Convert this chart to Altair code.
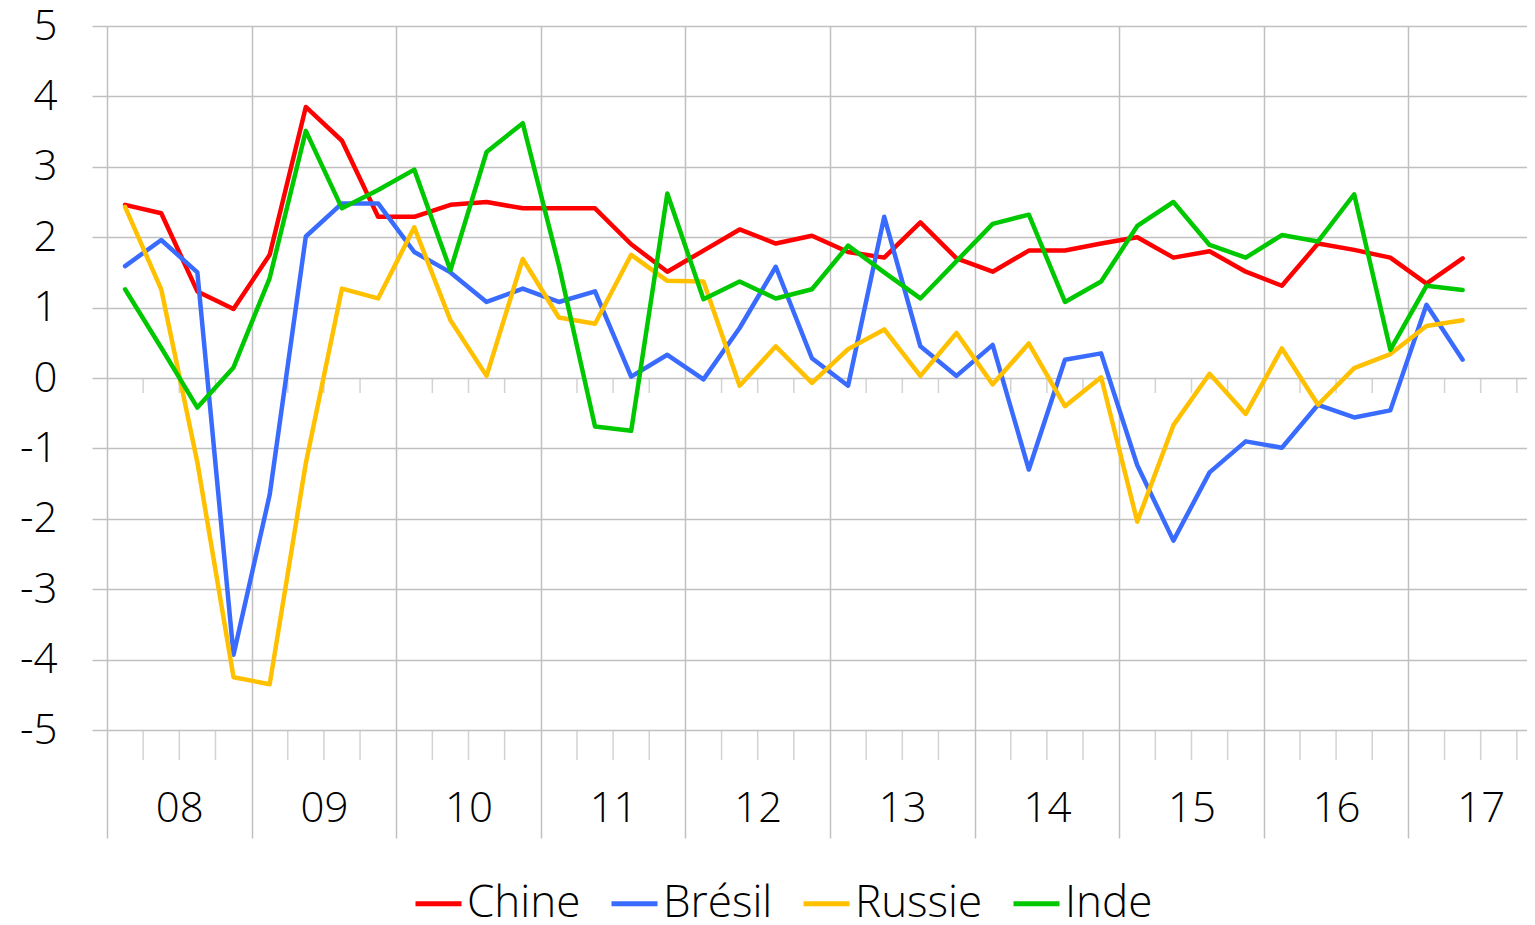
import altair as alt
import pandas as pd

# Quarterly data, 2008Q1 .. 2017Q2
chine = [2.46, 2.34, 1.23, 0.98, 1.75, 3.85, 3.37, 2.29, 2.29, 2.46, 2.50,
         2.41, 2.41, 2.41, 1.90, 1.51, 1.81, 2.11, 1.91, 2.02, 1.79, 1.71,
         2.21, 1.70, 1.51, 1.81, 1.81, 1.91, 2.00, 1.71, 1.80, 1.51, 1.31,
         1.91, 1.82, 1.71, 1.34, 1.70]
bresil = [1.59, 1.96, 1.50, -3.93, -1.66, 2.01, 2.48, 2.48, 1.79, 1.50, 1.08,
          1.27, 1.08, 1.23, 0.02, 0.33, -0.02, 0.71, 1.58, 0.28, -0.11, 2.29,
          0.45, 0.03, 0.47, -1.30, 0.26, 0.35, -1.24, -2.31, -1.34, -0.90, -0.99,
          -0.38, -0.56, -0.46, 1.04, 0.26]
russie = [2.43, 1.26, -1.20, -4.25, -4.35, -1.21, 1.27, 1.13, 2.14, 0.82, 0.03,
          1.69, 0.86, 0.77, 1.75, 1.38, 1.37, -0.11, 0.45, -0.07, 0.41, 0.69,
          0.03, 0.64, -0.09, 0.49, -0.40, 0.01, -2.04, -0.67, 0.06, -0.51, 0.42,
          -0.38, 0.14, 0.34, 0.74, 0.82]
inde = [1.26, 0.43, -0.42, 0.15, 1.42, 3.51, 2.41, 2.67, 2.96, 1.53, 3.21,
        3.62, 1.60, -0.69, -0.75, 2.62, 1.12, 1.37, 1.13, 1.26, 1.88, 1.50,
        1.13, 1.66, 2.19, 2.32, 1.08, 1.37, 2.16, 2.50, 1.89, 1.71, 2.03,
        1.94, 2.61, 0.40, 1.31, 1.25]

series_names = ["Chine", "Brésil", "Russie", "Inde"]
series_colors = ["#FF0000", "#3A6BFF", "#FFC000", "#00C800"]
year_labels = ["08", "09", "10", "11", "12", "13", "14", "15", "16", "17"]
y_ticks = [-5, -4, -3, -2, -1, 0, 1, 2, 3, 4, 5]

FONT = "Open Sans"
GRID = "#C0C0C0"
FS = 42

rows = []
for name, vals in zip(series_names, [chine, bresil, russie, inde]):
    for i, v in enumerate(vals):
        rows.append({"q": i + 0.5, "v": v, "serie": name})
df = pd.DataFrame(rows)

PLOT_W = 1420
QUARTER_PX = 36.15
x_max = PLOT_W / QUARTER_PX
year_bounds = [4 * k for k in range(len(year_labels))]
quarter_bounds = [q for q in range(1, 40) if q % 4 != 0 and q < x_max]

label_expr = "[" + ",".join("'" + y + "'" for y in year_labels) + "][floor(datum.value/4)]"

xscale = alt.Scale(domain=[0, x_max], nice=False, zero=False)
yscale = alt.Scale(domain=[-5, 5], nice=False, zero=False)

lines = alt.Chart(df).mark_line(strokeWidth=4.5, strokeJoin="round", strokeCap="round").encode(
    x=alt.X("q:Q", scale=xscale,
            axis=alt.Axis(values=year_bounds, grid=True, gridColor=GRID, gridWidth=1.5,
                          tickSize=108, tickColor=GRID, tickWidth=1.5, domain=False,
                          labelExpr=label_expr, labelOffset=2 * QUARTER_PX, labelPadding=-30,
                          labelFont=FONT, labelFontSize=FS, labelColor="#000000",
                          labelFontWeight=300,
                          labelFlush=False, labelOverlap=False, labelBound=False,
                          labelBaseline="middle", title=None)),
    y=alt.Y("v:Q", scale=yscale,
            axis=alt.Axis(values=y_ticks, labelExpr="'' + datum.value", grid=True,
                          gridColor=GRID, gridWidth=1.5,
                          tickSize=15, tickColor=GRID, tickWidth=1.5, domain=False,
                          labelFont=FONT, labelFontSize=FS, labelColor="#000000",
                          labelFontWeight=300, labelPadding=35,
                          labelFlush=False, labelOverlap=False, title=None)),
    color=alt.Color("serie:N", sort=series_names,
                    scale=alt.Scale(domain=series_names, range=series_colors),
                    legend=alt.Legend(orient="none", direction="horizontal",
                                      legendX=306, legendY=852, title=None,
                                      symbolType="stroke", symbolSize=2116,
                                      symbolStrokeWidth=5, labelFont=FONT,
                                      labelFontSize=44, labelFontWeight=300,
                                      labelColor="#000000", labelOffset=3,
                                      columnPadding=20)),
)

qdf = pd.DataFrame({"qb": quarter_bounds})
zero_ticks = alt.Chart(qdf).mark_tick(orient="vertical", size=15, thickness=1.5,
                                      color=GRID, yOffset=7.5).encode(
    x=alt.X("qb:Q", scale=xscale), y=alt.YDatum(0))
bottom_ticks = alt.Chart(qdf).mark_tick(orient="vertical", size=30, thickness=1.5,
                                        color=GRID, yOffset=15).encode(
    x=alt.X("qb:Q", scale=xscale), y=alt.YDatum(-5))

chart = alt.layer(zero_ticks, bottom_ticks, lines).properties(
    width=PLOT_W, height=704,
    autosize=alt.AutoSizeParams(type="none"),
    padding={"left": 99, "top": 18, "right": 0, "bottom": 187},
).configure_view(stroke=None)

chart.save("out.html", embed_options={"renderer": "svg", "actions": False})
